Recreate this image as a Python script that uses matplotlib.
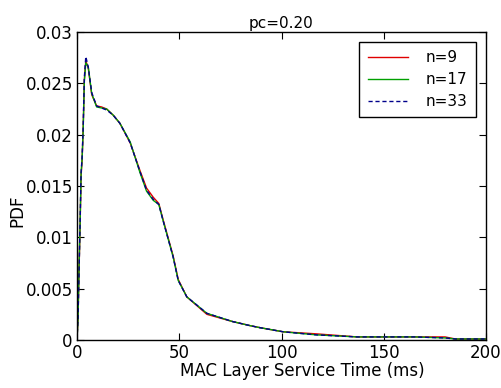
import numpy as np
import matplotlib.pyplot as plt

plt.rcParams['font.family'] = ['DejaVu Sans']

# Tiempo de servicio (ms) y PDF
t = [0, 0.5, 1, 1.5, 2, 2.5, 3, 3.6, 4.3, 5.5, 7.2, 9.6, 12, 14.5, 17.7, 21, 26,
     30.8, 34, 37.3, 40, 42, 47, 49.5, 53.7, 63.5, 76, 84.6, 89.5, 100.8, 117,
     137, 150, 165, 180, 185, 200]
pdf_n9 = [0, 0.0022, 0.0068, 0.011, 0.0160, 0.0175, 0.0205, 0.0254, 0.0272,
          0.0265, 0.0239, 0.0228, 0.0227, 0.0225, 0.0219, 0.0211, 0.0192,
          0.0165, 0.0148, 0.0139, 0.0133, 0.0118, 0.0082, 0.0059, 0.0042,
          0.0025, 0.0018, 0.0014, 0.0012, 0.0008, 0.0006, 0.0003, 0.0003,
          0.0003, 0.0003, 0.0001, 0.0001]
pdf_n17 = [0, 0.0020, 0.0070, 0.0112, 0.0162, 0.0177, 0.0203, 0.0252, 0.0270,
           0.0266, 0.0240, 0.0227, 0.0226, 0.0225, 0.0219, 0.0211, 0.0193,
           0.0163, 0.0145, 0.0136, 0.0132, 0.0117, 0.0081, 0.0058, 0.0042,
           0.0026, 0.0018, 0.0014, 0.0012, 0.0008, 0.0005, 0.0003, 0.0003,
           0.0003, 0.0002, 0.0001, 0.0001]
pdf_n33 = [0, 0.0021, 0.0066, 0.0113, 0.0163, 0.0178, 0.0206, 0.0256, 0.0276,
           0.0266, 0.0241, 0.0228, 0.0226, 0.0224, 0.0219, 0.0211, 0.0192,
           0.0164, 0.0146, 0.0137, 0.0132, 0.0117, 0.0081, 0.0058, 0.0042,
           0.0026, 0.0018, 0.0014, 0.0012, 0.0008, 0.0005, 0.0003, 0.0003,
           0.0003, 0.0002, 0.0001, 0.0001]

fig = plt.figure(figsize=(5.02, 3.88), dpi=100)
ax = fig.add_axes([77/502, 1 - 340/388, (486-77)/502, (340-32)/388])

ax.plot(t, pdf_n9, color='#e00000', lw=1, label='n=9')
ax.plot(t, pdf_n17, color='#00a000', lw=1, label='n=17')
ax.plot(t, pdf_n33, color='#00008b', lw=1, ls=(0, (3, 2)), label='n=33')

ax.set_xlim(0, 200)
ax.set_ylim(0, 0.03)
ax.set_xticks([0, 50, 100, 150, 200])
ax.set_yticks([0, 0.005, 0.01, 0.015, 0.02, 0.025, 0.03])
ax.set_yticklabels(['0', '0.005', '0.01', '0.015', '0.02', '0.025', '0.03'])
ax.tick_params(direction='in', top=True, right=True, labelsize=12, length=5, pad=3)
for s in ax.spines.values():
    s.set_linewidth(1.0)

ax.set_title('pc=0.20', fontsize=11, pad=3)
ax.set_xlabel('MAC Layer Service Time (ms)', fontsize=12, va='top')
ax.xaxis.set_label_coords(0.55, -0.072)
ax.set_ylabel('PDF', fontsize=12, va='center')
ax.yaxis.set_label_coords(-0.145, 0.42)

leg = ax.legend(loc='upper right', bbox_to_anchor=(0.976, 0.968), borderaxespad=0,
                fontsize=11, fancybox=False, framealpha=1, edgecolor='black',
                handlelength=2.6, handletextpad=1.2, borderpad=0.55,
                labelspacing=0.45)
leg.get_frame().set_linewidth(1.0)

fig.savefig('out.png', dpi=100)
